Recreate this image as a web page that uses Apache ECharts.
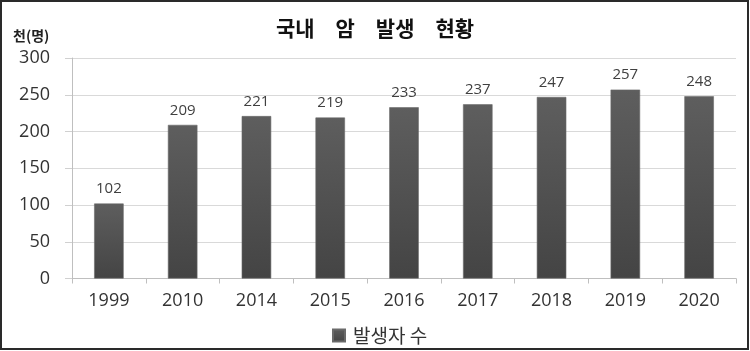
<!DOCTYPE html>
<html><head><meta charset="utf-8">
<script src="https://cdn.jsdelivr.net/npm/echarts@6/dist/echarts.min.js"></script>
<style>html,body{margin:0;padding:0;background:#fff}#c{width:750px;height:351px}</style>
</head><body><div id="c"></div>
<script>
const categories = ['1999','2010','2014','2015','2016','2017','2018','2019','2020'];
const values = [102,209,221,219,233,237,247,257,248];
const yTicks = [0,50,100,150,200,250,300];
const titleText = '국내\u3000암\u3000발생\u3000현황';
const unitText = '천(명)';
const seriesName = '발생자 수';

const FONT = "'Open Sans','Noto Sans CJK KR',sans-serif";
const chart = echarts.init(document.getElementById('c'), null, {renderer:'canvas'});
chart.setOption({
  animation:false,
  backgroundColor:'#fff',
  title:{text:titleText,left:'center',top:13,itemGap:0,
    textStyle:{fontFamily:"'Noto Sans CJK KR',sans-serif",fontSize:21,fontWeight:'bold',color:'#111'}},
  graphic:[
    {type:'rect',shape:{x:1,y:1,width:747,height:348},style:{fill:'none',stroke:'#2a2a2a',lineWidth:2},silent:true},
    {type:'text',left:13,top:29,style:{text:unitText,font:"bold 14px 'Noto Sans CJK KR',sans-serif",fill:'#222'}}
  ],
  legend:{data:[seriesName],left:327,top:321,itemWidth:12,itemHeight:12,icon:'rect',
    textStyle:{fontFamily:"'Noto Sans CJK KR',sans-serif",fontSize:19,color:'#333',padding:[0,0,0,3]}},
  grid:{left:72,right:14,top:58,bottom:72.5,containLabel:false},
  xAxis:{type:'category',data:categories,
    axisLine:{lineStyle:{color:'#bfbfbf',width:1}},
    axisTick:{show:true,length:5,lineStyle:{color:'#bfbfbf'},alignWithLabel:false},
    axisLabel:{fontFamily:FONT,fontSize:18,color:'#333',margin:13}},
  yAxis:{type:'value',min:0,max:300,interval:50,
    axisLine:{show:true,lineStyle:{color:'#bfbfbf'}},
    axisTick:{show:true,length:7,lineStyle:{color:'#d0d0d0'}},
    splitLine:{lineStyle:{color:'#d9d9d9',width:1}},
    axisLabel:{fontFamily:FONT,fontSize:18,color:'#333',margin:22,
      formatter:v=>yTicks.includes(v)?String(v):''}},
  series:[{name:seriesName,type:'bar',data:values,barWidth:'40%',
    itemStyle:{color:new echarts.graphic.LinearGradient(0,0,0,1,[{offset:0,color:'#5e5e5e'},{offset:1,color:'#444'}]),
      borderColor:'#6a6a6a',borderWidth:0.6},
    label:{show:true,position:'top',distance:7,fontFamily:FONT,fontSize:15,color:'#404040'}}]
});
</script></body></html>
